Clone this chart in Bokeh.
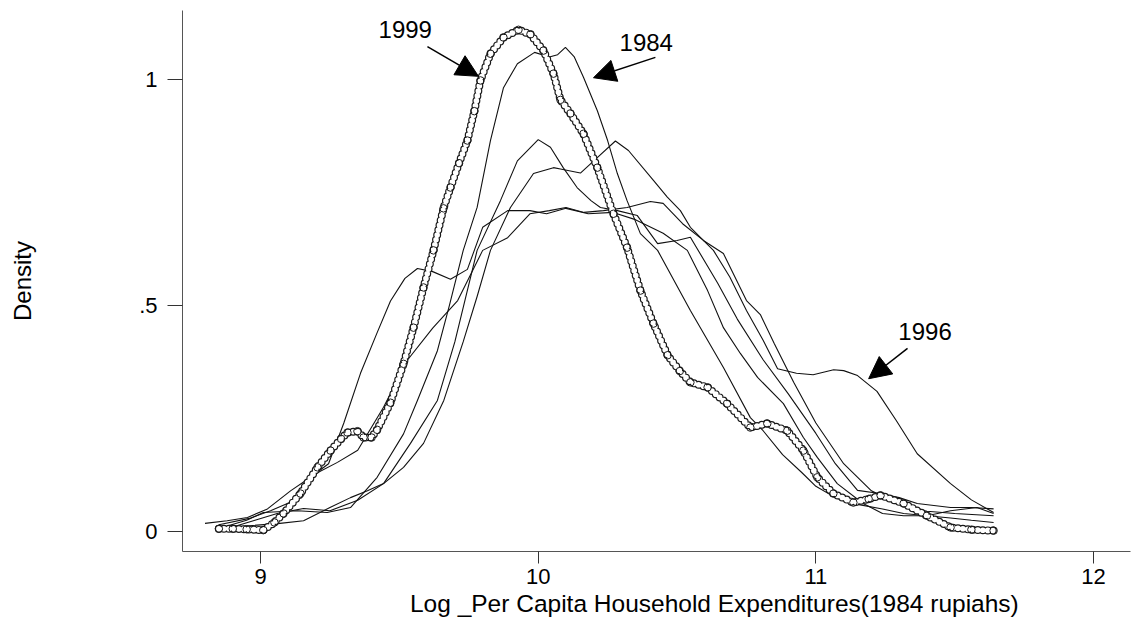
from bokeh.plotting import figure
from bokeh.models import Range1d, FixedTicker, Label, Arrow, NormalHead
from bokeh.embed import file_html
from bokeh.resources import INLINE

# ---- data ----
x1999 = [8.85, 8.90, 8.95, 9.01, 9.05, 9.083, 9.144, 9.205, 9.252, 9.29, 9.313, 9.349, 9.371, 9.40, 9.42,
         9.468, 9.515, 9.551, 9.587, 9.623, 9.659, 9.684, 9.715, 9.745, 9.77, 9.792, 9.828, 9.875, 9.929,
         9.972, 10.019, 10.055, 10.08, 10.116, 10.163, 10.213, 10.271, 10.32, 10.368, 10.415, 10.466, 10.51,
         10.548, 10.61, 10.68, 10.764, 10.825, 10.897, 10.955, 11.005, 11.063, 11.135, 11.19, 11.233, 11.316,
         11.4, 11.485, 11.56, 11.64]
y1999 = [0.006, 0.006, 0.005, 0.003, 0.02, 0.04, 0.084, 0.142, 0.179, 0.205, 0.219, 0.222, 0.208, 0.208, 0.225,
         0.285, 0.371, 0.451, 0.54, 0.622, 0.715, 0.761, 0.815, 0.865, 0.93, 0.998, 1.057, 1.093, 1.11,
         1.10, 1.064, 1.013, 0.955, 0.925, 0.88, 0.805, 0.703, 0.628, 0.533, 0.46, 0.39, 0.355,
         0.33, 0.319, 0.283, 0.23, 0.239, 0.223, 0.179, 0.12, 0.084, 0.064, 0.072, 0.08, 0.062,
         0.035, 0.009, 0.004, 0.002]

x1984 = [8.88, 8.95, 9.01, 9.133, 9.24, 9.324, 9.42, 9.515, 9.565, 9.637, 9.68, 9.73, 9.78, 9.828, 9.875,
         9.925, 9.987, 10.04, 10.07, 10.098, 10.13, 10.163, 10.213, 10.25, 10.285, 10.32, 10.368, 10.43,
         10.548, 10.667, 10.764, 10.81, 10.88, 10.95, 11.0, 11.07, 11.15, 11.24, 11.316, 11.4, 11.485,
         11.56, 11.64]
y1984 = [0.012, 0.025, 0.042, 0.046, 0.042, 0.053, 0.12, 0.216, 0.29, 0.40, 0.50, 0.622, 0.717, 0.865, 0.982,
         1.035, 1.06, 1.05, 1.055, 1.071, 1.05, 1.005, 0.931, 0.865, 0.792, 0.732, 0.659, 0.622,
         0.489, 0.363, 0.252, 0.223, 0.17, 0.13, 0.10, 0.075, 0.06, 0.05, 0.04, 0.035, 0.03,
         0.025, 0.02]

xC = [8.90, 8.98, 9.06, 9.155, 9.25, 9.35, 9.443, 9.54, 9.637, 9.70, 9.78, 9.864, 9.925, 10.0, 10.044,
      10.09, 10.14, 10.19, 10.224, 10.285, 10.357, 10.43, 10.5, 10.548, 10.646, 10.717, 10.81, 10.9,
      11.0, 11.07, 11.15, 11.23, 11.3, 11.365, 11.485, 11.56, 11.64]
yC = [0.01, 0.025, 0.04, 0.051, 0.046, 0.069, 0.106, 0.195, 0.29, 0.42, 0.622, 0.732, 0.82, 0.867, 0.85,
      0.805, 0.761, 0.732, 0.717, 0.71, 0.699, 0.637, 0.644, 0.651, 0.55, 0.47, 0.38, 0.305,
      0.217, 0.15, 0.091, 0.084, 0.075, 0.062, 0.053, 0.053, 0.05]

xL = [8.80, 8.88, 8.953, 9.025, 9.108, 9.18, 9.245, 9.30, 9.36, 9.42, 9.468, 9.52, 9.565, 9.62, 9.684,
      9.745, 9.80, 9.89, 9.97, 10.03, 10.1, 10.18, 10.27, 10.35, 10.45, 10.537, 10.61, 10.667, 10.728,
      10.79, 10.883, 10.955, 11.005, 11.077, 11.17, 11.24, 11.316, 11.4, 11.485, 11.58, 11.64]
yL = [0.018, 0.024, 0.031, 0.05, 0.09, 0.12, 0.15, 0.24, 0.35, 0.44, 0.51, 0.56, 0.582, 0.575, 0.558,
      0.58, 0.673, 0.71, 0.71, 0.703, 0.715, 0.703, 0.706, 0.69, 0.66, 0.622, 0.533, 0.451, 0.394,
      0.341, 0.283, 0.208, 0.164, 0.106, 0.062, 0.04, 0.035, 0.035, 0.046, 0.053, 0.04]

xP = [8.85, 8.96, 9.036, 9.12, 9.205, 9.277, 9.35, 9.443, 9.53, 9.62, 9.71, 9.80, 9.89, 9.97, 10.04,
      10.1, 10.165, 10.235, 10.32, 10.404, 10.45, 10.52, 10.595, 10.667, 10.75, 10.80, 10.85, 10.92,
      11.0, 11.1, 11.2, 11.3, 11.4, 11.5, 11.64]
yP = [0.015, 0.029, 0.046, 0.068, 0.13, 0.153, 0.18, 0.275, 0.38, 0.45, 0.511, 0.622, 0.65, 0.703, 0.71,
      0.717, 0.706, 0.71, 0.717, 0.73, 0.726, 0.681, 0.644, 0.615, 0.511, 0.48, 0.416, 0.33,
      0.24, 0.15, 0.09, 0.06, 0.045, 0.04, 0.035]

x1996 = [8.90, 9.07, 9.155, 9.25, 9.324, 9.385, 9.443, 9.515, 9.587, 9.66, 9.73, 9.78, 9.828, 9.9, 9.983,
         10.055, 10.08, 10.152, 10.2, 10.278, 10.325, 10.415, 10.465, 10.512, 10.548, 10.584, 10.631,
         10.69, 10.75, 10.81, 10.862, 10.93, 10.99, 11.064, 11.1, 11.15, 11.22, 11.29, 11.365, 11.485,
         11.56, 11.64]
y1996 = [0.01, 0.018, 0.024, 0.053, 0.075, 0.09, 0.106, 0.142, 0.195, 0.29, 0.42, 0.52, 0.622, 0.717, 0.792,
         0.805, 0.802, 0.793, 0.82, 0.864, 0.843, 0.777, 0.74, 0.71, 0.673, 0.651, 0.622,
         0.563, 0.489, 0.423, 0.36, 0.35, 0.347, 0.358, 0.356, 0.345, 0.31, 0.245, 0.172, 0.106,
         0.07, 0.042]

x_ticks = [9, 10, 11, 12]
y_ticks = [0, 0.5, 1]
y_tick_labels = ["0", ".5", "1"]
x_title = "Log _Per Capita Household Expenditures(1984 rupiahs)"
y_title = "Density"

# annotation texts and arrows (data coordinates)
ann_labels = ["1999", "1984", "1996"]
ann_text_x = [9.425, 10.293, 11.297]
ann_text_y = [1.111, 1.082, 0.443]
ann_start_x = [9.601, 10.422, 11.33]
ann_start_y = [1.073, 1.049, 0.405]
ann_tip_x = [9.785, 10.199, 11.19]
ann_tip_y = [1.007, 1.004, 0.338]

FONT = "Liberation Sans"

p = figure(width=1137, height=619, output_backend="svg", toolbar_location=None,
           x_range=Range1d(8.719, 12.133), y_range=Range1d(-0.0442, 1.1527),
           min_border_left=182, min_border_right=7, min_border_top=10, min_border_bottom=68)
p.outline_line_color = None
p.grid.visible = False
p.background_fill_color = "white"
p.border_fill_color = "white"

for ax in (p.xaxis, p.yaxis):
    ax.axis_line_color = "#555555"
    ax.axis_line_width = 1
    ax.major_tick_line_color = "#333333"
    ax.minor_tick_line_color = None
    ax.major_tick_in = 0
    ax.major_label_text_font = FONT
    ax.major_label_text_font_size = "22px"
    ax.major_label_text_color = "black"
    ax.axis_label_text_font = FONT
    ax.axis_label_text_font_style = "normal"
    ax.axis_label_text_color = "black"

p.xaxis.ticker = FixedTicker(ticks=x_ticks)
p.xaxis.major_tick_out = 12
p.xaxis.major_label_standoff = 5
# leading no-break spaces shift the centred title to the right, as in the reference
p.xaxis.axis_label = "\u00a0" * 17 + x_title
p.xaxis.axis_label_text_font_size = "24.5px"
p.xaxis.axis_label_text_line_height = 1.0
p.xaxis.axis_label_standoff = 3

p.yaxis.ticker = FixedTicker(ticks=y_ticks)
p.yaxis.major_label_overrides = {t: s for t, s in zip(y_ticks, y_tick_labels)}
p.yaxis.major_tick_out = 15
p.yaxis.major_label_standoff = 10
p.yaxis.axis_label = y_title
p.yaxis.axis_label_text_font_size = "24px"
p.yaxis.axis_label_standoff = 100

thin = dict(line_color="#111111", line_width=1.1)
for xs, ys in [(x1984, y1984), (xC, yC), (xL, yL), (xP, yP), (x1996, y1996)]:
    p.line(xs, ys, **thin)

# 1999: chain of hollow circles (round dots: dark ring, white centre)
p.line(x1999, y1999, line_color="#1a1a1a", line_width=8, line_dash="0 5", line_cap="round",
       line_join="round")
p.line(x1999, y1999, line_color="white", line_width=5.6, line_dash="0 5", line_cap="round",
       line_join="round")
p.scatter(x1999, y1999, marker="circle", size=7.5, fill_color=None, line_color="#1a1a1a", line_width=1)

for lab, tx, ty, sx, sy, ex, ey in zip(ann_labels, ann_text_x, ann_text_y, ann_start_x, ann_start_y,
                                       ann_tip_x, ann_tip_y):
    p.add_layout(Label(x=tx, y=ty, text=lab, text_font=FONT, text_font_size="24px",
                       text_color="black", text_align="left", text_baseline="alphabetic"))
    p.add_layout(Arrow(x_start=sx, y_start=sy, x_end=ex, y_end=ey, line_width=1.5, line_color="black",
                       end=NormalHead(size=22, fill_color="black", line_color="black")))

open("out.html", "w").write(file_html(p, INLINE))
